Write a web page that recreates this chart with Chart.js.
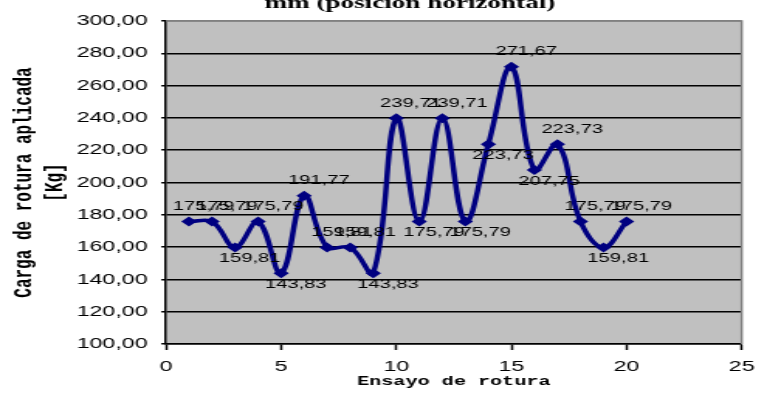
<!DOCTYPE html>
<html>
<head>
<meta charset="utf-8">
<script src="https://cdn.jsdelivr.net/npm/chart.js@4.4.1/dist/chart.umd.min.js"></script>
<style>
  html, body { margin: 0; padding: 0; background: #fff; }
  #grafico { display: block; }
</style>
</head>
<body>
<!-- canvas stretched horizontally like the original Excel export -->
<canvas id="grafico" width="495" height="398" style="width:767px;height:398px"></canvas>
<script>
// Ensayos de rotura y carga aplicada (Kg)
const ensayos = [1, 2, 3, 4, 5, 6, 7, 8, 9, 10, 11, 12, 13, 14, 15, 16, 17, 18, 19, 20];
const cargas = [175.79, 175.79, 159.81, 175.79, 143.83, 191.77, 159.81, 159.81, 143.83, 239.71,
                175.79, 239.71, 175.79, 223.73, 271.67, 207.75, 223.73, 175.79, 159.81, 175.79];
// lado de cada etiqueta respecto al punto
const ladoEtiqueta = ['above', 'above', 'below', 'above', 'below', 'above', 'above', 'above', 'below', 'above',
                      'below', 'above', 'below', 'below', 'above', 'below', 'above', 'above', 'below', 'above'];

const tituloGrafico = 'mm (posición horizontal)';
const tituloX = 'Ensayo de rotura';
const tituloY = ['Carga de rotura aplicada', '[Kg]'];

const fmt = v => Number(v).toFixed(2).replace('.', ',');

const fondoPlot = {
  id: 'fondoPlot',
  beforeDraw(chart) {
    const {ctx, chartArea: a} = chart;
    ctx.save();
    ctx.fillStyle = '#ffffff';
    ctx.fillRect(0, 0, chart.width, chart.height);
    ctx.fillStyle = '#c0c0c0';
    ctx.fillRect(a.left, a.top, a.right - a.left, a.bottom - a.top);
    ctx.restore();
  },
  beforeDatasetsDraw(chart) {
    const {ctx, chartArea: a} = chart;
    ctx.save();
    ctx.strokeStyle = '#808080';
    ctx.lineWidth = 1.5;
    ctx.beginPath();
    ctx.moveTo(a.left, a.top);
    ctx.lineTo(a.right, a.top);
    ctx.lineTo(a.right, a.bottom);
    ctx.stroke();
    ctx.restore();
  }
};

const etiquetas = {
  id: 'etiquetas',
  afterDatasetsDraw(chart) {
    const {ctx} = chart;
    const meta = chart.getDatasetMeta(0);
    ctx.save();
    ctx.font = '13px "Liberation Sans", Arial, sans-serif';
    ctx.fillStyle = '#000';
    ctx.textAlign = 'center';
    ctx.textBaseline = 'middle';
    meta.data.forEach((pt, i) => {
      const dy = ladoEtiqueta[i] === 'above' ? -15 : 11;
      ctx.fillText(fmt(cargas[i]), pt.x + 9.5, pt.y + dy);
    });
    ctx.restore();
  },
  afterDraw(chart) {
    const {ctx} = chart;
    ctx.save();
    ctx.font = 'bold 17.5px "Liberation Serif", serif';
    ctx.fillStyle = '#000';
    ctx.textAlign = 'center';
    ctx.textBaseline = 'alphabetic';
    ctx.fillText(tituloGrafico, 264.5, 8);
    ctx.restore();
  }
};

const ctx = document.getElementById('grafico').getContext('2d');
new Chart(ctx, {
  type: 'line',
  data: {
    datasets: [{
      data: ensayos.map((x, i) => ({x: x, y: cargas[i]})),
      borderColor: '#000080',
      backgroundColor: '#000080',
      borderWidth: 3.5,
      tension: 0.4,
      pointStyle: 'rectRot',
      pointRadius: 5,
      pointBorderWidth: 0,
      fill: false
    }]
  },
  options: {
    responsive: false,
    devicePixelRatio: 1,
    animation: false,
    events: [],
    layout: { padding: { top: 21, right: 9.8, bottom: 0, left: 0 } },
    plugins: {
      legend: { display: false },
      tooltip: { enabled: false },
      title: { display: false }
    },
    scales: {
      x: {
        type: 'linear',
        min: 0,
        max: 25,
        afterFit(s) { s.height = 54; },
        ticks: {
          stepSize: 5,
          padding: 8,
          color: '#000',
          font: { family: '"Liberation Sans", Arial, sans-serif', size: 15 },
          maxRotation: 0
        },
        grid: { drawOnChartArea: false, drawTicks: true, tickLength: 6, tickColor: '#000', tickWidth: 1.5 },
        border: { color: '#000', width: 1.5 },
        title: {
          display: true,
          text: tituloX,
          color: '#000',
          font: { family: '"Liberation Mono", monospace', size: 13, weight: 'bold' },
          padding: { top: 0, bottom: 8 }
        }
      },
      y: {
        min: 100,
        max: 300,
        afterFit(s) { s.width = 107.1; },
        ticks: {
          stepSize: 20,
          padding: 8.8,
          color: '#000',
          font: { family: '"Liberation Sans", Arial, sans-serif', size: 15 },
          callback: v => fmt(v)
        },
        grid: {
          color: c => (c.tick && c.tick.value === 300) ? '#808080' : '#000',
          lineWidth: 1.5,
          tickLength: 3,
          tickColor: '#000'
        },
        border: { color: '#000', width: 1.5 },
        title: {
          display: true,
          text: tituloY,
          color: '#000',
          font: { family: '"Liberation Mono", monospace', size: 16, weight: 'bold', lineHeight: 1.25 },
          padding: { top: 5.5, bottom: 0 }
        }
      }
    }
  },
  plugins: [fondoPlot, etiquetas]
});
</script>
</body>
</html>
